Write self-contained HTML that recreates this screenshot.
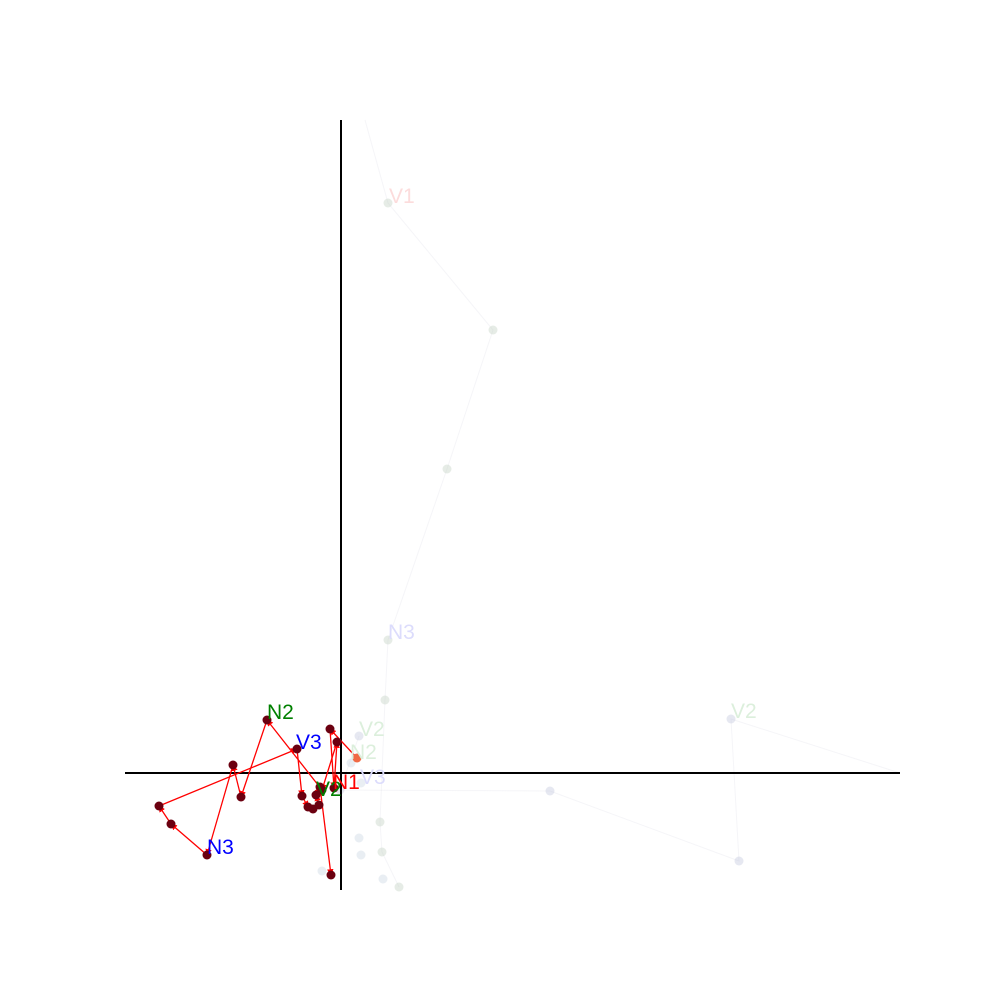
<!DOCTYPE html>
<html><head><meta charset="utf-8"><style>
html,body{margin:0;padding:0;background:#fff;}
svg{display:block;font-family:"Liberation Sans","DejaVu Sans",sans-serif;}
</style></head><body>
<svg id="chart" width="1000" height="1000" viewBox="0 0 1000 1000">
<defs><marker id="ah" viewBox="0 0 10 10" refX="9" refY="5" markerWidth="5" markerHeight="5" orient="auto"><path d="M0,0L10,5L0,10z" fill="red"/></marker></defs>
<g id="ghost"></g>
<line x1="341" y1="120" x2="341" y2="890" stroke="#000" stroke-width="2"/>
<line x1="125" y1="773" x2="900" y2="773" stroke="#000" stroke-width="2"/>
<g id="main"></g>
<g id="labels"></g>
</svg>
<script>
// data units: 1 unit = 1px offset from origin (x right, y up)
const ghostAX = [24, 47, 152, 106, 47, 44, 39, 41, 58];
const ghostAY = [653, 570, 443, 304, 133, 73, -49, -79, -114];
const ghostBX = [18, -1, 209, 398, 390, 559];
const ghostBY = [37, -17, -18, -88, 54, 0];
const ghostPX = [18, 20, 42, -19, 10, 20];
const ghostPY = [-65, -82, -106, -98, 10, -10];
const mainX = [16, -11, -7, -4, -19, -74, -100, -108, -134, -170, -182, -44, -39, -33, -28, -22, -25, -21, -10];
const mainY = [15, 44, -15, 31, -17, 53, -24, 8, -82, -51, -33, 24, -23, -34, -36, -32, -22, -14, -102];
const labelText = ["V1", "N3", "V2", "V2", "N2", "V3", "N2", "V3", "N3", "V2", "N1"];
const labelX = [48, 47, 390, 18, 9, 19, -74, -45, -134, -25, -8];
const labelY = [570, 134, 55, 37, 14, -11, 54, 24, -81, -23, -16];
const labelColor = ["#fcdcdc", "#dcdcfc", "#dcefdc", "#dcefdc", "#dcefdc", "#dcdcfc", "green", "blue", "blue", "green", "red"];
const sx = v => 341 + v, sy = v => 773 - v;
const NS = "http://www.w3.org/2000/svg";
const ghost = document.getElementById('ghost'), main = document.getElementById('main'), lab = document.getElementById('labels');
function poly(g, xs, ys, stroke, op, name) {
  const p = document.createElementNS(NS, 'polyline');
  p.setAttribute('points', xs.map((x, i) => sx(x) + ',' + sy(ys[i])).join(' '));
  p.setAttribute('fill', 'none'); p.setAttribute('stroke', stroke); p.setAttribute('stroke-opacity', op);
  
  
  g.appendChild(p);
}
function dots(g, xs, ys, fill, op, name) {
  xs.forEach((x, i) => {
    const c = document.createElementNS(NS, 'circle');
    c.setAttribute('cx', sx(x)); c.setAttribute('cy', sy(ys[i])); c.setAttribute('r', 4.5);
    c.setAttribute('fill', fill); c.setAttribute('fill-opacity', op);
    
    
    g.appendChild(c);
  });
}
poly(ghost, ghostAX, ghostAY, '#ccd', 0.2, 'ghost-line-a');
poly(ghost, ghostBX, ghostBY, '#ccd', 0.2, 'ghost-line-b');
dots(ghost, ghostAX.slice(1), ghostAY.slice(1), '#c8d4c8', 0.45, 'ghost-point');
dots(ghost, ghostBX.slice(0, -1), ghostBY.slice(0, -1), '#c8cce0', 0.45, 'ghost-point');
dots(ghost, ghostPX, ghostPY, '#c8d4e0', 0.4, 'ghost-point');
for (let i = 0; i < mainX.length - 1; i++) {
  const l = document.createElementNS(NS, 'line');
  l.setAttribute('x1', sx(mainX[i])); l.setAttribute('y1', sy(mainY[i]));
  l.setAttribute('x2', sx(mainX[i + 1])); l.setAttribute('y2', sy(mainY[i + 1]));
  l.setAttribute('stroke', 'red'); l.setAttribute('stroke-width', 1.3);
  l.setAttribute('marker-end', 'url(#ah)');
  
  
  main.appendChild(l);
}
dots(main, mainX.slice(1), mainY.slice(1), '#6b0010', 1, 'trajectory-point');
dots(main, [mainX[0]], [mainY[0]], '#f06a45', 1, 'start-point');
labelText.forEach((t, i) => {
  const e = document.createElementNS(NS, 'text');
  e.setAttribute('x', sx(labelX[i])); e.setAttribute('y', sy(labelY[i]));
  e.setAttribute('fill', labelColor[i]); e.setAttribute('font-size', 21);
  e.textContent = t;
  
  
  lab.appendChild(e);
});
</script>
</body></html>
